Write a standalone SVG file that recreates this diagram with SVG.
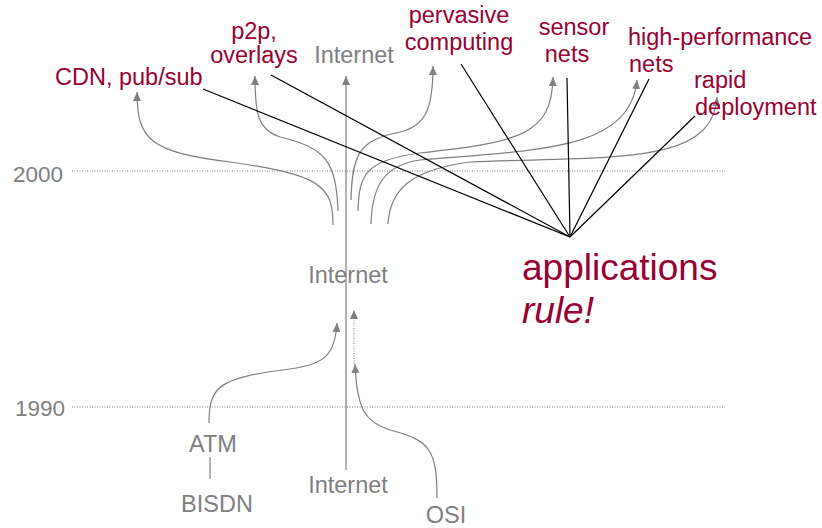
<svg xmlns="http://www.w3.org/2000/svg" width="822" height="528" viewBox="0 0 822 528">
<style>
text{font-family:"Liberation Sans",Arial,sans-serif;}
.red{fill:#990033;font-size:23.5px;}
.gray{fill:#808080;font-size:23.5px;}
.yr{fill:#808080;font-size:22.5px;}
.app{fill:#990033;font-size:37px;}
.curve{fill:none;stroke:#808080;stroke-width:1.2;}
.blk{fill:none;stroke:#000;stroke-width:1.2;}
.dot{fill:none;stroke:#808080;stroke-width:1;stroke-dasharray:1,1.5;}
</style>
<defs>
<marker id="ah" markerUnits="userSpaceOnUse" markerWidth="10" markerHeight="8" refX="9" refY="4" orient="auto">
<path d="M0,0 L9,4 L0,8 Z" fill="#808080"/>
</marker>
</defs>
<g id="timeline">
<line class="dot" x1="72" y1="171" x2="725" y2="171"/>
<line class="dot" x1="72" y1="407" x2="725" y2="407"/>
<text class="yr" x="13" y="182">2000</text>
<text class="yr" x="15" y="416">1990</text>
</g>
<g id="connectors">
<path class="curve" d="M346,470 L346,76" stroke-width="1.5" marker-end="url(#ah)"/>
<path class="curve" d="M209,423 C209,385 220,378 290,369 C325,364 335,355 337,323" marker-end="url(#ah)"/>
<path class="curve" d="M437,498 C437,450 430,440 390,430 C365,422 357,410 355,364" marker-end="url(#ah)"/>
<path class="dot" d="M354,364 L354,310" marker-end="url(#ah)"/>
<line x1="210" y1="457" x2="210" y2="479" stroke="#808080" stroke-width="1.2"/>
<path class="curve" d="M333,225 C333,185 320,175 230,162 C150,152 137,140 137,92" marker-end="url(#ah)"/>
<path class="curve" d="M338,211 C336,160 325,148 280,137 C258,130 255,115 255,76" marker-end="url(#ah)"/>
<path class="curve" d="M351,200 C352,150 362,140 400,132 C425,126 433,110 433,66" marker-end="url(#ah)"/>
<path class="curve" d="M358,211 C359,175 365,160 420,153 C520,142 552,135 553,77" marker-end="url(#ah)"/>
<path class="curve" d="M371,224 C372,185 385,165 420,160 C540,150 630,150 637,80" marker-end="url(#ah)"/>
<path class="curve" d="M388,224 C390,190 410,170 470,162 C620,156 712,165 717,97" marker-end="url(#ah)"/>
<line class="blk" x1="203" y1="89" x2="570" y2="237"/>
<line class="blk" x1="271" y1="75" x2="570" y2="237"/>
<line class="blk" x1="461" y1="64" x2="570" y2="237"/>
<line class="blk" x1="567" y1="78" x2="570" y2="237"/>
<line class="blk" x1="649" y1="79" x2="570" y2="237"/>
<line class="blk" x1="695" y1="116" x2="570" y2="237"/>
</g>
<g id="cdn"><text class="red" x="55" y="85">CDN, pub/sub</text></g>
<g id="p2p"><text class="red" x="254" y="39" text-anchor="middle">p2p,</text><text class="red" x="254" y="63" text-anchor="middle">overlays</text></g>
<g id="internet-top"><text class="gray" x="354" y="63" text-anchor="middle">Internet</text></g>
<g id="pervasive"><text class="red" x="459" y="23" text-anchor="middle">pervasive</text><text class="red" x="459" y="50" text-anchor="middle">computing</text></g>
<g id="sensor"><text class="red" x="574" y="35" text-anchor="middle">sensor</text><text class="red" x="567" y="62" text-anchor="middle">nets</text></g>
<g id="hpn"><text class="red" x="628" y="45">high-performance</text><text class="red" x="629" y="72">nets</text></g>
<g id="rapid"><text class="red" x="694" y="88">rapid</text><text class="red" x="695" y="115">deployment</text></g>
<g id="internet-mid"><text class="gray" x="348" y="283" text-anchor="middle">Internet</text></g>
<g id="internet-bot"><text class="gray" x="348" y="493" text-anchor="middle">Internet</text></g>
<g id="atm"><text class="gray" x="213" y="452" text-anchor="middle">ATM</text></g>
<g id="bisdn"><text class="gray" x="217" y="512" text-anchor="middle">BISDN</text></g>
<g id="osi"><text class="gray" x="446" y="523" text-anchor="middle">OSI</text></g>
<g id="applications"><text class="app" x="522" y="280">applications</text><text class="app" x="522" y="323" font-style="italic">rule!</text></g>
</svg>
